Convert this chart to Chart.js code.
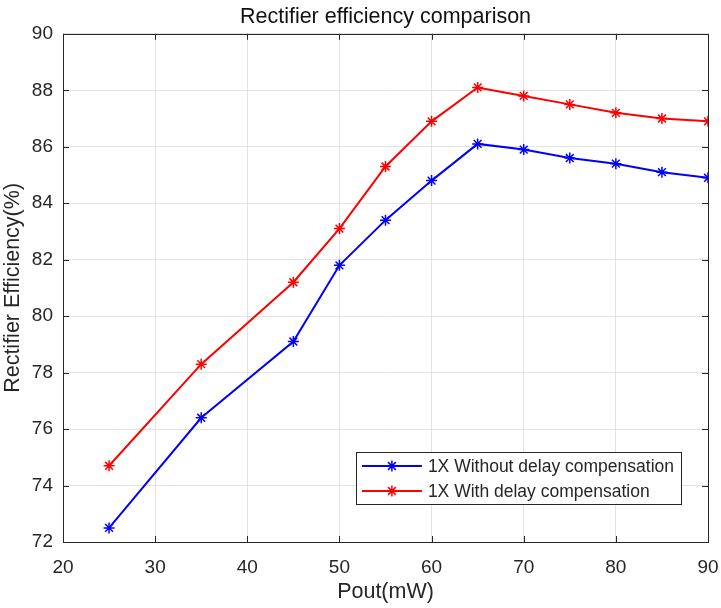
<!DOCTYPE html>
<html>
<head>
<meta charset="utf-8">
<script src="https://cdn.jsdelivr.net/npm/chart.js@4.4.1/dist/chart.umd.min.js"></script>
<style>
html,body{margin:0;padding:0;background:#fff;}
#wrap{width:721px;height:608px;}
</style>
</head>
<body>
<div id="wrap"><canvas id="c" width="721" height="608"></canvas></div>
<script>
const pout = [25, 35, 45, 50, 55, 60, 65, 70, 75, 80, 85, 90];
const withoutComp = [72.5, 76.4, 79.1, 81.8, 83.4, 84.8, 86.1, 85.9, 85.6, 85.4, 85.1, 84.9];
const withComp = [74.7, 78.3, 81.2, 83.1, 85.3, 86.9, 88.1, 87.8, 87.5, 87.2, 87.0, 86.9];
const seriesLabels = ['1X Without delay compensation', '1X With delay compensation'];
const titleText = 'Rectifier efficiency comparison';
const xTitle = 'Pout(mW)';
const yTitle = 'Rectifier Efficiency(%)';

const FONT = '"Liberation Sans", Arial, Helvetica, sans-serif';
const AX = '#262626';

const boxPlugin = {
  id: 'boxPlugin',
  afterDatasetsDraw(chart) {
    const ctx = chart.ctx;
    const a = chart.chartArea;
    const xs = chart.scales.x, ys = chart.scales.y;
    ctx.save();
    ctx.strokeStyle = AX;
    ctx.lineWidth = 1;
    ctx.strokeRect(Math.round(a.left) + 0.5, Math.round(a.top) + 0.5, Math.round(a.right - a.left), Math.round(a.bottom - a.top));
    const tl = 6;
    ctx.beginPath();
    xs.ticks.forEach(t => {
      const px = Math.round(xs.getPixelForValue(t.value)) + 0.5;
      ctx.moveTo(px, a.bottom); ctx.lineTo(px, a.bottom - tl);
      ctx.moveTo(px, a.top); ctx.lineTo(px, a.top + tl);
    });
    ys.ticks.forEach(t => {
      const py = Math.round(ys.getPixelForValue(t.value)) + 0.5;
      ctx.moveTo(a.left, py); ctx.lineTo(a.left + tl, py);
      ctx.moveTo(a.right, py); ctx.lineTo(a.right - tl, py);
    });
    ctx.stroke();

    // legend box
    ctx.font = '17.5px ' + FONT;
    const maxW = Math.max(...chart.data.datasets.map(d => ctx.measureText(d.label).width));
    const lineLen = 60, gap = 6, padL = 6, padR = 7, rowH = 25;
    const bw = padL + lineLen + gap + maxW + padR;
    const bh = 52;
    const bx = a.right - 27 - bw;
    const by = a.bottom - 38 - bh;
    ctx.fillStyle = '#fff';
    ctx.fillRect(bx, by, bw, bh);
    ctx.strokeStyle = AX;
    ctx.lineWidth = 1;
    ctx.strokeRect(Math.round(bx) + 0.5, Math.round(by) + 0.5, Math.round(bw), Math.round(bh));
    chart.data.datasets.forEach((d, i) => {
      const cy = by + 14 + i * rowH;
      ctx.strokeStyle = d.borderColor;
      ctx.lineWidth = 2;
      ctx.beginPath();
      ctx.moveTo(bx + padL, cy); ctx.lineTo(bx + padL + lineLen, cy);
      ctx.stroke();
      const mx = bx + padL + lineLen / 2, r = 5.5;
      ctx.lineWidth = 1.5;
      ctx.beginPath();
      for (let k = 0; k < 4; k++) {
        const ang = k * Math.PI / 4;
        ctx.moveTo(mx - r * Math.cos(ang), cy - r * Math.sin(ang));
        ctx.lineTo(mx + r * Math.cos(ang), cy + r * Math.sin(ang));
      }
      ctx.stroke();
      ctx.fillStyle = AX;
      ctx.textBaseline = 'middle';
      ctx.textAlign = 'left';
      ctx.fillText(d.label, bx + padL + lineLen + gap, cy + 1);
    });
    ctx.restore();
  }
};

const toPts = (xs, ys) => xs.map((x, i) => ({x: x, y: ys[i]}));

new Chart(document.getElementById('c'), {
  type: 'line',
  data: {
    datasets: [
      {label: seriesLabels[0], data: toPts(pout, withoutComp), borderColor: '#0000ff', backgroundColor: '#0000ff',
       borderWidth: 2, pointStyle: 'star', pointRadius: 5.5, pointBorderWidth: 1.5, pointBorderColor: '#0000ff', tension: 0},
      {label: seriesLabels[1], data: toPts(pout, withComp), borderColor: '#ff0000', backgroundColor: '#ff0000',
       borderWidth: 2, pointStyle: 'star', pointRadius: 5.5, pointBorderWidth: 1.5, pointBorderColor: '#ff0000', tension: 0}
    ]
  },
  options: {
    responsive: false,
    animation: false,
    devicePixelRatio: 1,
    layout: {padding: {left: 0, right: 13, top: 0, bottom: 0}},
    plugins: {
      legend: {display: false},
      tooltip: {enabled: false},
      title: {display: true, text: titleText, fullSize: false, color: '#111',
              font: {family: FONT, size: 21.5, weight: 'normal', lineHeight: 1.2}, padding: {top: 4, bottom: 4}}
    },
    scales: {
      x: {
        type: 'linear', min: 20, max: 90,
        ticks: {stepSize: 10, color: AX, font: {family: FONT, size: 19}, padding: 14, maxRotation: 0},
        grid: {color: '#e3e3e3', drawTicks: false},
        border: {display: false},
        title: {display: true, text: xTitle, color: AX, font: {family: FONT, size: 21.5}, padding: {top: 0, bottom: 3}},
        afterFit: s => { s.height = 66; s.paddingRight = 0; s.paddingLeft = 0; }
      },
      y: {
        type: 'linear', min: 72, max: 90,
        ticks: {stepSize: 2, color: AX, font: {family: FONT, size: 19}, padding: 10},
        grid: {color: '#e3e3e3', drawTicks: false},
        border: {display: false},
        title: {display: true, text: yTitle, color: AX, font: {family: FONT, size: 21.5}, padding: {top: 0, bottom: 0}},
        afterFit: s => { s.width = 63; s.paddingTop = 0; s.paddingBottom = 0; }
      }
    }
  },
  plugins: [boxPlugin]
});
</script>
</body>
</html>
